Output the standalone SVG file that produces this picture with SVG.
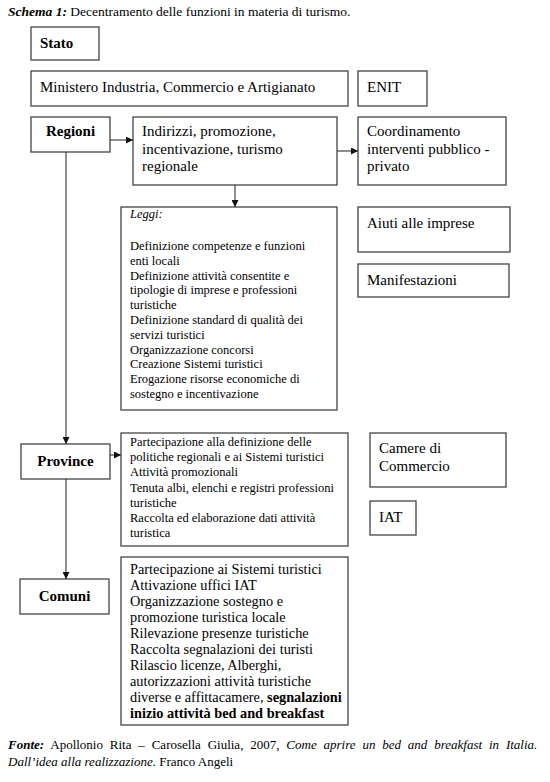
<svg xmlns="http://www.w3.org/2000/svg" width="550" height="782" viewBox="0 0 550 782">
<style>
text{font-family:"Liberation Serif","Times New Roman",serif;fill:#000}
.box{fill:#fff;stroke:#444;stroke-width:1.3}
.t15{font-size:15px}
.b15{font-size:15px;font-weight:bold}
.t12{font-size:12.5px}
.t14{font-size:14.3px}
.con{stroke:#333;stroke-width:1.1;fill:none}
</style>
<defs>
<marker id="arr" markerUnits="userSpaceOnUse" markerWidth="7" markerHeight="7" refX="7" refY="3.5" orient="auto">
<path d="M0,0 L7,3.5 L0,7 z" fill="#111"/>
</marker>
</defs>
<rect width="550" height="782" fill="#fff"/>
<text x="8" y="16" style="font-size:13.5px"><tspan font-weight="bold" font-style="italic">Schema 1:</tspan> Decentramento delle funzioni in materia di turismo.</text>

<g id="stato"><rect class="box" x="31" y="27" width="68" height="33"/><text class="b15" x="40" y="48">Stato</text></g>
<g id="ministero"><rect class="box" x="31" y="71" width="317" height="35"/><text class="t15" x="40" y="92">Ministero Industria, Commercio e Artigianato</text></g>
<g id="enit"><rect class="box" x="358" y="71" width="69" height="35"/><text class="t15" x="367" y="92">ENIT</text></g>
<g id="regioni"><rect class="box" x="31" y="117" width="79" height="35"/><text class="b15" x="70.5" y="136" text-anchor="middle">Regioni</text></g>
<g id="indirizzi"><rect class="box" x="133" y="117" width="204" height="68"/><text class="t15" x="142"><tspan x="142" y="136">Indirizzi, promozione,</tspan><tspan x="142" y="153.5">incentivazione, turismo</tspan><tspan x="142" y="171">regionale</tspan></text></g>
<g id="coordinamento"><rect class="box" x="358" y="117" width="148" height="68"/><text class="t15"><tspan x="367" y="136">Coordinamento</tspan><tspan x="367" y="153.5">interventi pubblico -</tspan><tspan x="367" y="171">privato</tspan></text></g>
<g id="leggi"><rect class="box" x="121" y="207" width="216" height="203"/>
<text class="t12"><tspan x="130" y="218" font-style="italic">Leggi:</tspan>
<tspan x="130" y="250">Definizione competenze e funzioni</tspan>
<tspan x="130" y="264.8">enti locali</tspan>
<tspan x="130" y="279.6">Definizione attività consentite e</tspan>
<tspan x="130" y="294.4">tipologie di imprese e professioni</tspan>
<tspan x="130" y="309.2">turistiche</tspan>
<tspan x="130" y="324">Definizione standard di qualità dei</tspan>
<tspan x="130" y="338.8">servizi turistici</tspan>
<tspan x="130" y="353.6">Organizzazione concorsi</tspan>
<tspan x="130" y="368.4">Creazione Sistemi turistici</tspan>
<tspan x="130" y="383.2">Erogazione risorse economiche di</tspan>
<tspan x="130" y="398">sostegno e incentivazione</tspan></text></g>
<g id="aiuti"><rect class="box" x="358" y="207" width="152" height="45"/><text class="t15" x="367" y="228">Aiuti alle imprese</text></g>
<g id="manifestazioni"><rect class="box" x="358" y="264" width="151" height="33"/><text class="t15" x="367" y="285">Manifestazioni</text></g>
<g id="province"><rect class="box" x="21" y="444" width="89" height="35"/><text class="b15" x="65.5" y="466" text-anchor="middle">Province</text></g>
<g id="province-funzioni"><rect class="box" x="121" y="433" width="227" height="113"/>
<text class="t12"><tspan x="130" y="446">Partecipazione alla definizione delle</tspan>
<tspan x="130" y="461.2">politiche regionali e ai Sistemi turistici</tspan>
<tspan x="130" y="476.4">Attività promozionali</tspan>
<tspan x="130" y="491.6">Tenuta albi, elenchi e registri professioni</tspan>
<tspan x="130" y="506.8">turistiche</tspan>
<tspan x="130" y="522">Raccolta ed elaborazione dati attività</tspan>
<tspan x="130" y="537.2">turistica</tspan></text></g>
<g id="camere"><rect class="box" x="370" y="433" width="136" height="54"/><text class="t15"><tspan x="379" y="453">Camere di</tspan><tspan x="379" y="470.5">Commercio</tspan></text></g>
<g id="iat"><rect class="box" x="370" y="501" width="46" height="34"/><text class="t15" x="379" y="522">IAT</text></g>
<g id="comuni"><rect class="box" x="20" y="579" width="89" height="35"/><text class="b15" x="64.5" y="601" text-anchor="middle">Comuni</text></g>
<g id="comuni-funzioni"><rect class="box" x="121" y="557" width="227" height="168"/>
<text class="t14"><tspan x="130" y="574">Partecipazione ai Sistemi turistici</tspan>
<tspan x="130" y="590">Attivazione uffici IAT</tspan>
<tspan x="130" y="606">Organizzazione sostegno e</tspan>
<tspan x="130" y="622">promozione turistica locale</tspan>
<tspan x="130" y="638">Rilevazione presenze turistiche</tspan>
<tspan x="130" y="654">Raccolta segnalazioni dei turisti</tspan>
<tspan x="130" y="670">Rilascio licenze, Alberghi,</tspan>
<tspan x="130" y="686">autorizzazioni attività turistiche</tspan>
<tspan x="130" y="702">diverse e affittacamere, <tspan font-weight="bold">segnalazioni</tspan></tspan>
<tspan x="130" y="718" font-weight="bold">inizio attività bed and breakfast</tspan></text></g>

<g id="connectors">
<line class="con" x1="110" y1="140" x2="133" y2="140" marker-end="url(#arr)"/>
<line class="con" x1="337" y1="151" x2="358" y2="151" marker-end="url(#arr)"/>
<line class="con" x1="235" y1="185" x2="235" y2="207" marker-end="url(#arr)"/>
<line class="con" x1="66" y1="152" x2="66" y2="444" marker-end="url(#arr)"/>
<line class="con" x1="110" y1="455" x2="121" y2="455" marker-end="url(#arr)"/>
<line class="con" x1="66" y1="479" x2="66" y2="579" marker-end="url(#arr)"/>
</g>

<text x="8" y="749" style="font-size:13px;word-spacing:3.6px"><tspan font-weight="bold" font-style="italic">Fonte:</tspan> Apollonio Rita – Carosella Giulia, 2007, <tspan font-style="italic">Come aprire un bed and breakfast in Italia.</tspan></text>
<text x="8" y="766" style="font-size:13px"><tspan font-style="italic">Dall’idea alla realizzazione.</tspan> Franco Angeli</text>
</svg>
